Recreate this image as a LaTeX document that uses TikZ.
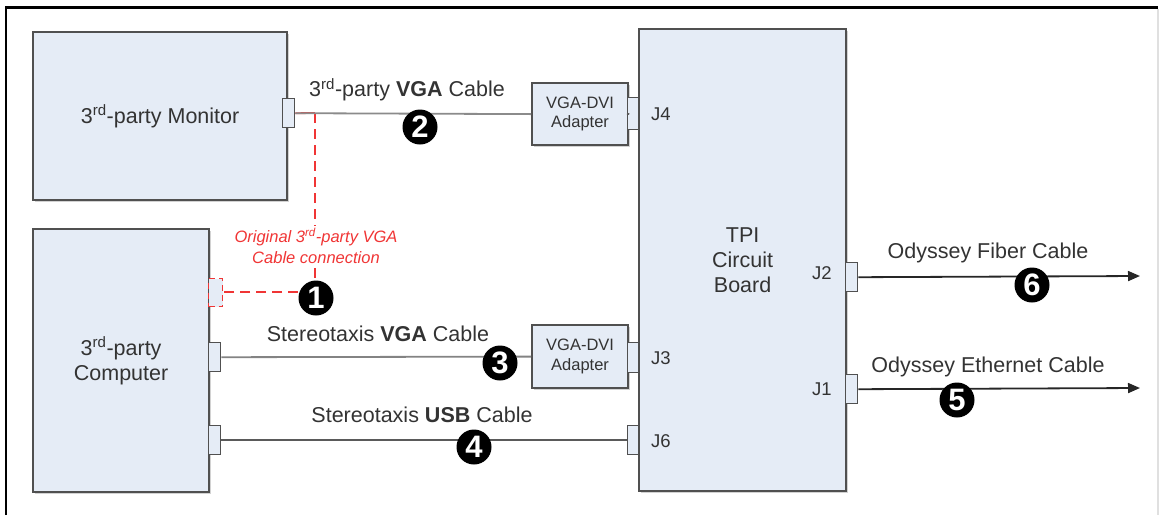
\documentclass[tikz,border=0pt]{standalone}
\usepackage{fontspec}
\setmainfont{Liberation Sans}
\usetikzlibrary{arrows.meta,shadows}
\definecolor{boxfill}{HTML}{E5ECF6}
\definecolor{boxline}{HTML}{505050}
\definecolor{txt}{HTML}{333333}
\definecolor{cable}{HTML}{5A5A5A}
\definecolor{redc}{HTML}{F03535}
\begin{document}
\begin{tikzpicture}[x=1pt,y=-1pt,
  box/.style={draw=boxline, line width=2.2pt, fill=boxfill, anchor=north west,
    drop shadow={shadow xshift=1.5pt, shadow yshift=-1.5pt, fill=black!35, opacity=.5},
    text=txt, font=\fontsize{21.5}{25}\selectfont, align=center, inner sep=0pt},
  adbox/.style={box, font=\fontsize{16.5}{19.5}\selectfont},
  port/.style={draw=boxline, line width=1.4pt, fill=boxfill, anchor=north west,
    minimum width=12pt, minimum height=29pt, inner sep=0pt},
  rport/.style={draw=redc, line width=1.4pt, dashed, dash pattern=on 6pt off 4pt, fill=boxfill,
    anchor=north west, minimum width=14pt, minimum height=28pt, inner sep=0pt},
  cab/.style={draw=cable, line width=1.8pt},
  lbl/.style={text=txt, font=\fontsize{21.5}{25}\selectfont, inner sep=0pt},
  jlbl/.style={text=txt, font=\fontsize{18.5}{22}\selectfont, inner sep=0pt},
  badge/.style={circle, fill=black, minimum size=35pt, inner sep=0pt, text=white,
    font=\fontsize{31}{31}\selectfont\bfseries},
  arr/.style={cab, draw=black!85, -{Triangle[length=12pt,width=10pt]}},
  red/.style={draw=redc, line width=1.8pt, dash pattern=on 10pt off 6pt},
]
\useasboundingbox (0,0) rectangle (1160,515);
% frame
\draw[black, line width=2.4pt] (6,515) -- (6,7.5) -- (1158,7.5);
\draw[black!12, line width=2pt] (1158,8.7) -- (1158,515);

% main boxes
\node[box, minimum width=254pt, minimum height=168pt] (mon) at (32,31) {3\textsuperscript{rd}-party Monitor};
\node[box, minimum width=176pt, minimum height=263pt] (pc) at (32,228) {3\textsuperscript{rd}-party\\Computer};
\node[box, minimum width=207pt, minimum height=462pt] (tpi) at (638,28) {TPI\\Circuit\\Board};
\node[adbox, minimum width=96pt, minimum height=62pt] (ad1) at (531,82) {VGA-DVI\\Adapter};
\node[adbox, minimum width=96pt, minimum height=63pt] (ad2) at (531,324) {VGA-DVI\\Adapter};

% ports
\node[port] (monp) at (282,98) {};
\node[rport] (pcr) at (208,278) {};
\node[port] (pcv) at (208,342) {};
\node[port] (pcu) at (208,425) {};
\node[port, minimum width=11pt, minimum height=32pt] (j4) at (627,97) {};
\node[port, minimum width=11pt, minimum height=30pt] (j3) at (627,342) {};
\node[port, minimum width=11pt] (j6) at (627,425) {};
\node[port] (j2) at (845,262) {};
\node[port] (j1) at (845,374) {};

% J labels
\node[jlbl] (lj4) at (661,114) {J4};
\node[jlbl] (lj3) at (661,358) {J3};
\node[jlbl] (lj6) at (661,441) {J6};
\node[jlbl] (lj2) at (822,273) {J2};
\node[jlbl] (lj1) at (822,389) {J1};

% arrow ends
\coordinate (e2) at (1140,276);
\coordinate (e1) at (1140,388);

% red dashed original connection
\coordinate (r0) at (315,113);
\coordinate (r1) at (315,226);
\coordinate (r2) at (315,268);
\node[text=redc, font=\fontsize{16.5}{21}\selectfont\itshape, align=center, inner sep=0pt] (rtxt) at (316,246)
  {Original 3\textsuperscript{rd}-party VGA\\Cable connection};
\draw[redc, line width=1.8pt] (monp.east) -- (r0);
\draw[red] (r0) -- (r1);
\draw[red] (r2) -- (315,282);
\draw[red] (298,292) -- (pcr.east |- 0,292);

% cables
\draw[cab, draw=cable!70] (monp.east) -- (ad1.west);
\draw[cab] (ad1.east) -- (j4.west);
\draw[cab, draw=cable!75] (pcv.east) -- (ad2.west);
\draw[cab] (pcu.east) -- (j6.west);
\draw[arr] (j2.east) -- (e2);
\draw[arr] (j1.east) -- (e1);

% cable labels
\node[lbl] (l2) at (407,90) {3\textsuperscript{rd}-party \textbf{VGA} Cable};
\node[lbl] (l3) at (378,334) {Stereotaxis \textbf{VGA} Cable};
\node[lbl] (l4) at (422,415) {Stereotaxis \textbf{USB} Cable};
\node[lbl] (l6) at (988,253) {Odyssey Fiber Cable};
\node[lbl] (l5) at (988,367) {Odyssey Ethernet Cable};

% badges
\node[badge] (b1) at (316,298) {1};
\node[badge] (b2) at (420,127) {2};
\node[badge] (b3) at (500,363) {3};
\node[badge] (b4) at (474,447) {4};
\node[badge] (b5) at (957,400) {5};
\node[badge] (b6) at (1032,285) {6};
\end{tikzpicture}
\end{document}
